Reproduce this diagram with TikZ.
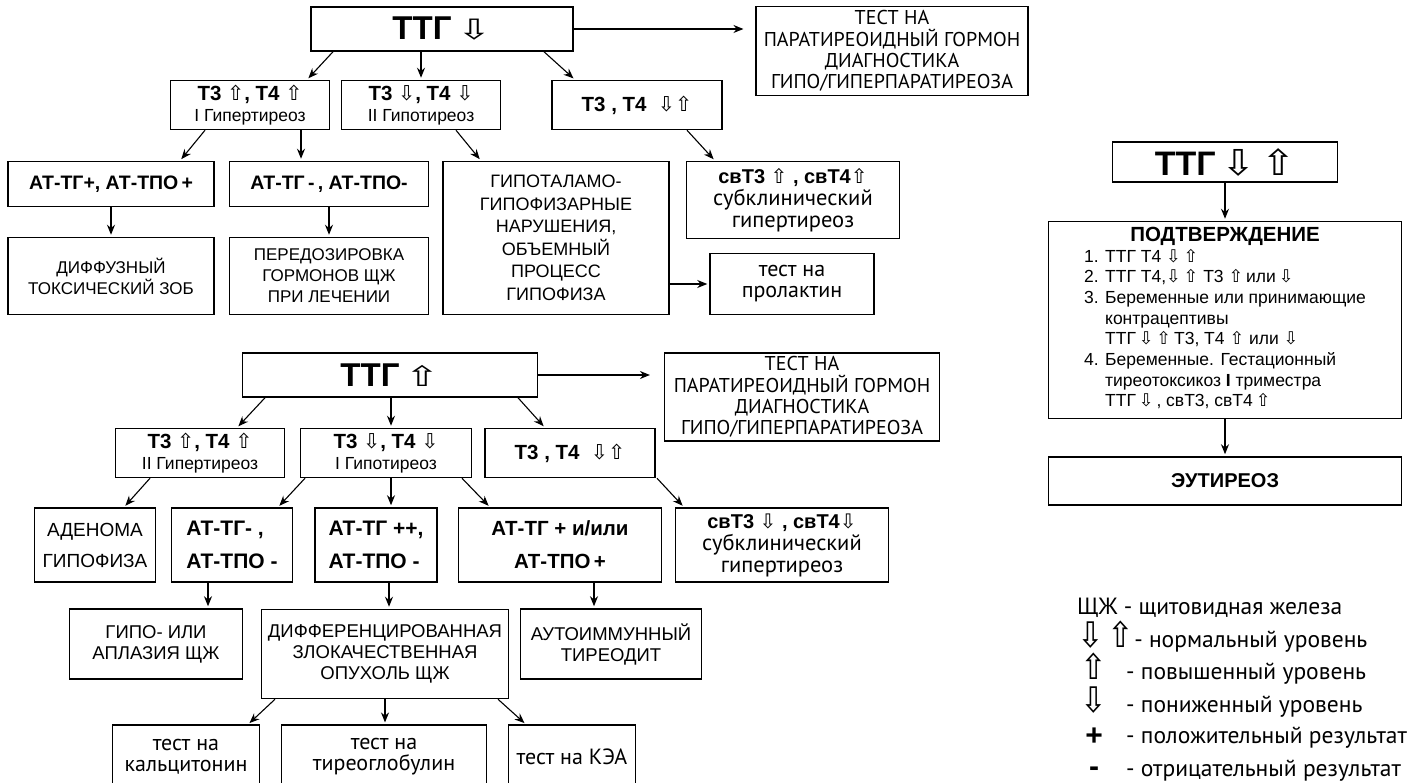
\documentclass[tikz,border=0pt]{standalone}
\usepackage{fontspec}
\usepackage{graphicx}
\setmainfont{Liberation Sans}
\newfontfamily\ptfont{PT Sans}
\newfontfamily\arfont{DejaVu Sans}
\usetikzlibrary{arrows.meta}

\newcommand\arrU{{\arfont\mdseries ⇧}}
\newcommand\arrD{{\arfont\mdseries ⇩}}
\newcommand\bigU{{\arfont\mdseries\scalebox{1.25}[0.85]{⇧}}}
\newcommand\bigD{{\arfont\mdseries\scalebox{1.25}[0.85]{⇩}}}
\newcommand\legU{{\arfont\mdseries\scalebox{1.35}[1.5]{⇧}}}
\newcommand\legD{{\arfont\mdseries\scalebox{1.35}[1.5]{⇩}}}

\tikzset{
  box/.style={draw, line width=1.5pt, align=center, inner sep=0pt},
  tbox/.style={draw, line width=1.1pt, align=center, inner sep=0pt,
    font=\ptfont\fontsize{22}{21}\selectfont},
  link/.style={-{Stealth[length=10pt,width=8pt]}, line width=1.1pt, shorten >=2pt},
  legtext/.style={anchor=base west, inner sep=0pt, font=\ptfont\fontsize{23.5}{28}\selectfont},
  legsym/.style={anchor=base, inner sep=0pt},
}

\begin{document}
\begin{tikzpicture}[x=1pt, y=-1pt]
\useasboundingbox (0,0) rectangle (1408,783);

% upper tree: TTG low
\node[box, minimum width=262pt, minimum height=44pt, font=\fontsize{33}{36}\selectfont\bfseries] (ttgA) at (442,29) {ТТГ\,\bigD};
\node[box, line width=1.1pt, minimum width=272pt, minimum height=89pt, font=\ptfont\fontsize{20}{21.3}\selectfont] (ptgA) at (892,51) {ТЕСТ НА\\ПАРАТИРЕОИДНЫЙ ГОРМОН\\ДИАГНОСТИКА\\ГИПО/ГИПЕРПАРАТИРЕОЗА};

\node[box, minimum width=159pt, minimum height=49pt, font=\fontsize{17.5}{21}\selectfont] (tsA1) at (250,105) {{\bfseries\fontsize{20.5}{21}\selectfont Т3 \arrU, Т4 \arrU}\\I Гипертиреоз};
\node[box, minimum width=159pt, minimum height=49pt, font=\fontsize{17.5}{21}\selectfont] (tsA2) at (421,105) {{\bfseries\fontsize{20.5}{21}\selectfont Т3 \arrD, Т4 \arrD}\\II Гипотиреоз};
\node[box, minimum width=170pt, minimum height=49pt, font=\fontsize{20.5}{21}\selectfont\bfseries] (tsA3) at (637,105) {Т3 , Т4 \ \arrD\arrU};

\node[box, minimum width=206pt, minimum height=45pt, font=\fontsize{19.5}{24}\selectfont\bfseries] (abA1) at (111,184) {АТ-ТГ+, АТ-ТПО\,+};
\node[box, minimum width=199pt, minimum height=45pt, font=\fontsize{19.5}{24}\selectfont\bfseries] (abA2) at (329,184) {АТ-ТГ\,-\,, АТ-ТПО-};
\node[box, minimum width=226pt, minimum height=153pt, font=\fontsize{18}{22.5}\selectfont] (hypA) at (556,238) {ГИПОТАЛАМО-\\ГИПОФИЗАРНЫЕ\\НАРУШЕНИЯ,\\ОБЪЕМНЫЙ\\ПРОЦЕСС\\ГИПОФИЗА};
\node[box, minimum width=213pt, minimum height=77pt, font=\ptfont\fontsize{22.5}{21.5}\selectfont] (svA) at (793,200) {{\rmfamily\bfseries\fontsize{20}{21}\selectfont свТ3 \arrU\ , свТ4\arrU}\\[1pt]субклинический\\гипертиреоз};

\node[box, minimum width=206pt, minimum height=77pt, font=\fontsize{17}{21}\selectfont] (dgA1) at (111,276) {ДИФФУЗНЫЙ\\ТОКСИЧЕСКИЙ ЗОБ};
\node[box, minimum width=199pt, minimum height=77pt, font=\fontsize{17}{21}\selectfont] (dgA2) at (329,276) {ПЕРЕДОЗИРОВКА\\ГОРМОНОВ ЩЖ\\ПРИ ЛЕЧЕНИИ};
\node[tbox, line width=1.5pt, minimum width=164pt, minimum height=61pt] (prl) at (792,284) {тест на\\пролактин};

\draw[link] (ttgA.east) -- (ttgA.east -| ptgA.west) [shorten >=12pt];
\draw[link] ([xshift=-109pt]ttgA.south) -- ([xshift=57pt]tsA1.north);
\draw[link] (tsA2.north |- ttgA.south) -- (tsA2.north);
\draw[link] ([xshift=102pt]ttgA.south) -- ([xshift=-62pt]tsA3.north);
\draw[link] ([xshift=-45pt]tsA1.south) -- ([xshift=69pt]abA1.north);
\draw[link] ([xshift=51pt]tsA1.south) -- ([xshift=-28pt]abA2.north);
\draw[link] ([xshift=35pt]tsA2.south) -- ([xshift=-75pt]hypA.north);
\draw[link] ([xshift=50pt]tsA3.south) -- ([xshift=-78pt]svA.north);
\draw[link] (abA1.south) -- (dgA1.north);
\draw[link] (abA2.south) -- (dgA2.north);
\draw[link] (hypA.east |- prl.west) -- (prl.west);

% lower tree: TTG high
\node[box, minimum width=295pt, minimum height=44pt, font=\fontsize{33}{36}\selectfont\bfseries] (ttgB) at (390,375) {ТТГ\,\bigU};
\node[box, line width=1.1pt, minimum width=275pt, minimum height=88pt, font=\ptfont\fontsize{20}{21.3}\selectfont] (ptgB) at (802,397) {ТЕСТ НА\\ПАРАТИРЕОИДНЫЙ ГОРМОН\\ДИАГНОСТИКА\\ГИПО/ГИПЕРПАРАТИРЕОЗА};

\node[box, minimum width=169pt, minimum height=49pt, font=\fontsize{17.5}{21}\selectfont] (tsB1) at (200,453) {{\bfseries\fontsize{20.5}{21}\selectfont Т3 \arrU, Т4 \arrU}\\II Гипертиреоз};
\node[box, minimum width=171pt, minimum height=49pt, font=\fontsize{17.5}{21}\selectfont] (tsB2) at (386,453) {{\bfseries\fontsize{20.5}{21}\selectfont Т3 \arrD, Т4 \arrD}\\I Гипотиреоз};
\node[box, minimum width=170pt, minimum height=49pt, font=\fontsize{20.5}{21}\selectfont\bfseries] (tsB3) at (570,453) {Т3 , Т4 \ \arrD\arrU};

\node[box, minimum width=121pt, minimum height=74pt, font=\fontsize{19}{31}\selectfont] (abB0) at (95,545) {АДЕНОМА\\ГИПОФИЗА};
\node[box, minimum width=121pt, minimum height=74pt, align=left, font=\fontsize{21}{33}\selectfont\bfseries] (abB1) at (232,545) {АТ-ТГ- ,\\АТ-ТПО -};
\node[box, minimum width=122pt, minimum height=74pt, align=left, font=\fontsize{21}{33}\selectfont\bfseries] (abB2) at (376,545) {АТ-ТГ ++,\\АТ-ТПО -};
\node[box, minimum width=203pt, minimum height=74pt, font=\fontsize{20.5}{33}\selectfont\bfseries] (abB3) at (560,545) {АТ-ТГ + и/или\\АТ-ТПО\,+};
\node[box, minimum width=213pt, minimum height=74pt, font=\ptfont\fontsize{22.5}{21.5}\selectfont] (svB) at (782,545) {{\rmfamily\bfseries\fontsize{20}{21}\selectfont свТ3 \arrD\ , свТ4\arrD}\\[1pt]субклинический\\гипертиреоз};

\node[box, minimum width=173pt, minimum height=70pt, font=\fontsize{18.5}{21}\selectfont] (dgB1) at (156,644) {ГИПО- ИЛИ\\АПЛАЗИЯ ЩЖ};
\node[box, minimum width=247pt, minimum height=89pt, font=\fontsize{18.5}{21}\selectfont] (dgB2) at (385,654) {ДИФФЕРЕНЦИРОВАННАЯ\\ЗЛОКАЧЕСТВЕННАЯ\\ОПУХОЛЬ ЩЖ};
\node[box, minimum width=181pt, minimum height=70pt, font=\fontsize{18.5}{21}\selectfont] (dgB3) at (611,644) {АУТОИММУННЫЙ\\ТИРЕОДИТ};

\node[tbox, minimum width=147pt, minimum height=64pt] (tcB1) at (186,757) {тест на\\кальцитонин};
\node[tbox, minimum width=205pt, minimum height=64pt] (tcB2) at (384,757) {тест на\\тиреоглобулин};
\node[tbox, minimum width=127pt, minimum height=64pt] (tcB3) at (572,757) {тест на КЭА};

\draw[link] (ttgB.east) -- (ttgB.east -| ptgB.west) [shorten >=14pt];
\draw[link] ([xshift=-125pt]ttgB.south) -- ([xshift=37pt]tsB1.north);
\draw[link] ([xshift=5pt]tsB2.north |- ttgB.south) -- ([xshift=5pt]tsB2.north);
\draw[link] ([xshift=128pt]ttgB.south) -- ([xshift=-25pt]tsB3.north);
\draw[link] ([xshift=-50pt]tsB1.south) -- ([xshift=29pt]abB0.north);
\draw[link] ([xshift=-81pt]tsB2.south) -- ([xshift=46pt]abB1.north);
\draw[link] ([xshift=5pt]tsB2.south) -- ([xshift=15pt]abB2.north);
\draw[link] ([xshift=76pt]tsB2.south) -- ([xshift=-70pt]abB3.north);
\draw[link] ([xshift=87pt]tsB3.south) -- ([xshift=-98pt]svB.north);
\draw[link] ([xshift=-24pt]abB1.south) -- ([xshift=52pt]dgB1.north);
\draw[link] ([xshift=13pt]abB2.south) -- ([xshift=4pt]dgB2.north);
\draw[link] ([xshift=34pt]abB3.south) -- ([xshift=-17pt]dgB3.north);
\draw[link] ([xshift=-110pt]dgB2.south) -- ([xshift=62pt]tcB1.north);
\draw[link] (dgB2.south) -- (dgB2.south |- tcB2.north);
\draw[link] ([xshift=113pt]dgB2.south) -- ([xshift=-46pt]tcB3.north);

% right column: TTG normal
\node[box, minimum width=225pt, minimum height=40pt, font=\fontsize{34}{36}\selectfont\bfseries] (ttgC) at (1225,162) {ТТГ\,{\arfont\mdseries\scalebox{1.2}[1.05]{⇩}\,\scalebox{1.2}[1.05]{⇧}}};
\node[box, minimum width=353pt, minimum height=197pt, font=\fontsize{17.5}{20.7}\selectfont] (cnf) at (1225,320) {%
  \begin{tabular}{@{}l@{}}
  \multicolumn{1}{@{}c@{}}{\fontsize{20.5}{21}\selectfont\bfseries ПОДТВЕРЖДЕНИЕ}\\
  1. ТТГ Т4 \arrD\,\arrU\\
  2. ТТГ Т4,\arrD\,\arrU\ Т3 \arrU\,или\,\arrD\\
  3. Беременные или принимающие\\
  \phantom{3. }контрацептивы\\
  \phantom{3. }ТТГ\,\arrD\,\arrU\,Т3, Т4 \arrU\ или \arrD\\
  4. Беременные. Гестационный\\
  \phantom{4. }тиреотоксикоз \textbf{I} триместра\\
  \phantom{4. }ТТГ\,\arrD\,, свТ3, свТ4\,\arrU
  \end{tabular}};
\node[box, minimum width=353pt, minimum height=48pt, font=\fontsize{20}{24}\selectfont\bfseries] (eut) at (1225,481) {ЭУТИРЕОЗ};

\draw[link] (ttgC.south) -- (cnf.north);
\draw[link] (cnf.south) -- (eut.north);

% legend
\node[legtext] (lg1) at (1077,614) {ЩЖ - щитовидная железа};
\node[legtext] (lg2) at (1077,647) {\legD\,\legU- нормальный уровень};
\node[legsym, font=\fontsize{23.5}{28}\selectfont] (sy3) at (1094,679) {\legU};
\node[legtext] (lg3) at (1126,679) {- повышенный уровень};
\node[legsym, font=\fontsize{23.5}{28}\selectfont] (sy4) at (1094,712) {\legD};
\node[legtext] (lg4) at (1126,712) {- пониженный уровень};
\node[legsym, font=\fontsize{30}{30}\selectfont\bfseries] (sy5) at (1094,745) {+};
\node[legtext] (lg5) at (1126,743) {- положительный результат};
\node[legsym, font=\fontsize{30}{30}\selectfont\bfseries] (sy6) at (1094,776) {-};
\node[legtext] (lg6) at (1126,776) {- отрицательный результат};
\end{tikzpicture}
\end{document}
